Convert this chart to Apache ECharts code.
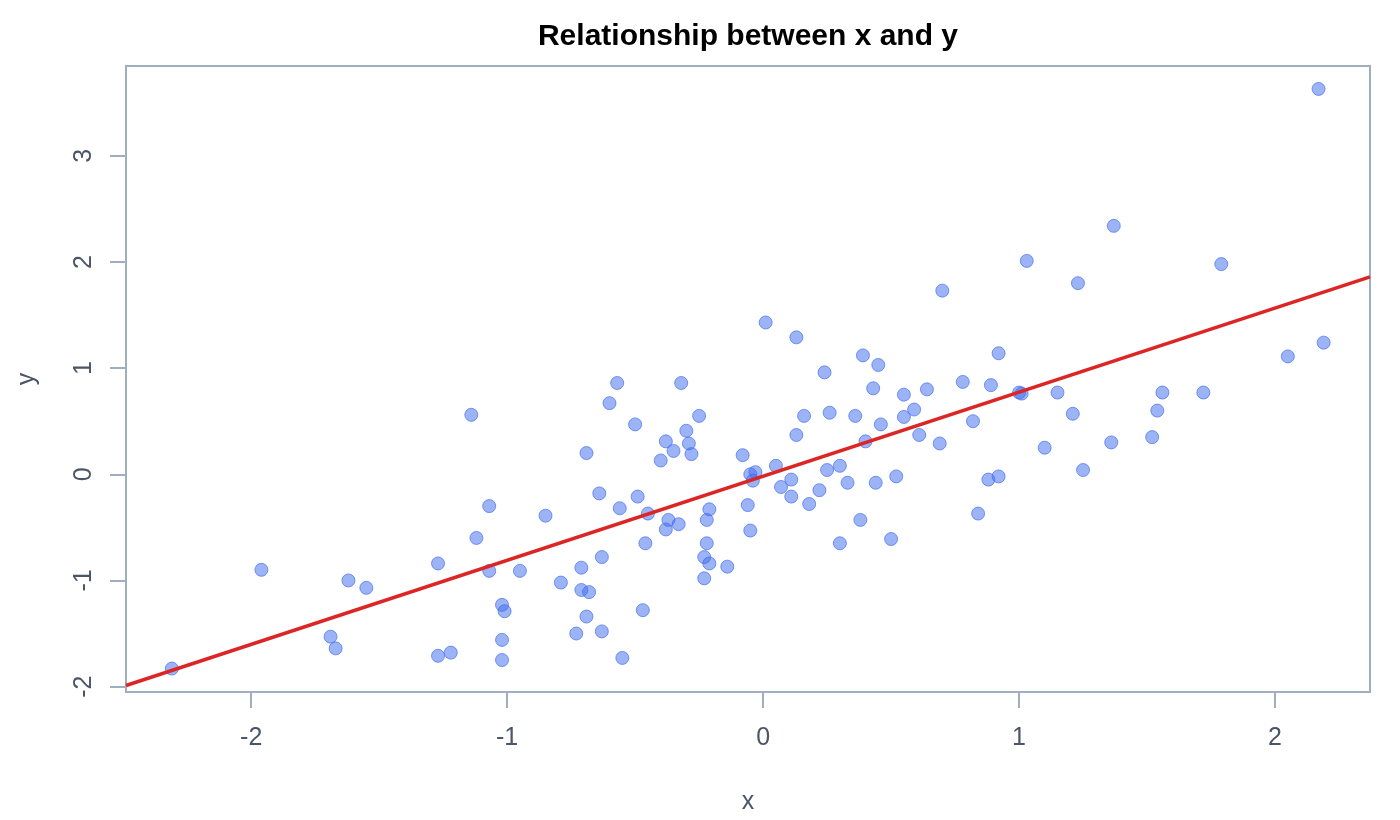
<!DOCTYPE html>
<html>
<head>
<meta charset="utf-8">
<title>Relationship between x and y</title>
<script src="https://cdn.jsdelivr.net/npm/echarts@6/dist/echarts.min.js"></script>
<style>
	html, body { margin: 0; padding: 0; background: #fff; }
	#main { width: 1400px; height: 820px; }
</style>
</head>
<body>
<div id="main"></div>
<script>
// values
var xValues = [-2.31, -1.96, -1.69, -1.67, -1.62, -1.55, -1.27, -1.27, -1.22, -1.14,
	-1.12, -1.07, -1.07, -0.95, -1.02, -1.01, -1.02, -1.02, -0.85, -0.79,
	-0.71, -0.71, -0.68, -0.73, -0.69, -0.63, -0.55, -0.69, -0.64, -0.63,
	-0.60, -0.57, -0.56, -0.50, -0.49, -0.47, -0.46, -0.45, -0.40, -0.38,
	-0.38, -0.37, -0.35, -0.33, -0.32, -0.30, -0.29, -0.28, -0.25, -0.23,
	-0.23, -0.22, -0.22, -0.21, -0.21, -0.14, -0.08, -0.06, -0.05, -0.05,
	-0.03, -0.04, 0.01, 0.05, 0.07, 0.11, 0.11, 0.13, 0.13, 0.16,
	0.18, 0.22, 0.24, 0.25, 0.26, 0.30, 0.30, 0.33, 0.36, 0.38,
	0.39, 0.40, 0.43, 0.44, 0.45, 0.46, 0.50, 0.52, 0.55, 0.55,
	0.59, 0.61, 0.64, 0.69, 0.70, 0.78, 0.82, 0.84, 0.88, 0.89,
	0.92, 0.92, 1.00, 1.01, 1.03, 1.10, 1.15, 1.21, 1.23, 1.25,
	1.36, 1.37, 1.52, 1.54, 1.56, 1.72, 1.79, 2.05, 2.17, 2.19];
var yValues = [-1.83, -0.90, -1.53, -1.64, -1.00, -1.07, -0.84, -1.71, -1.68, 0.56,
	-0.60, -0.30, -0.91, -0.91, -1.23, -1.29, -1.56, -1.75, -0.39, -1.02,
	-0.88, -1.09, -1.11, -1.50, -1.34, -1.48, -1.73, 0.20, -0.18, -0.78,
	0.67, 0.86, -0.32, 0.47, -0.21, -1.28, -0.65, -0.37, 0.13, 0.31,
	-0.52, -0.43, 0.22, -0.47, 0.86, 0.41, 0.29, 0.19, 0.55, -0.98,
	-0.78, -0.65, -0.43, -0.33, -0.84, -0.87, 0.18, -0.29, -0.53, 0.00,
	0.02, -0.06, 1.43, 0.08, -0.12, -0.05, -0.21, 0.37, 1.29, 0.55,
	-0.28, -0.15, 0.96, 0.04, 0.58, -0.65, 0.08, -0.08, 0.55, -0.43,
	1.12, 0.31, 0.81, -0.08, 1.03, 0.47, -0.61, -0.02, 0.54, 0.75,
	0.61, 0.37, 0.80, 0.29, 1.73, 0.87, 0.50, -0.37, -0.05, 0.84,
	1.14, -0.02, 0.77, 0.76, 2.01, 0.25, 0.77, 0.57, 1.80, 0.04,
	0.30, 2.34, 0.35, 0.60, 0.77, 0.77, 1.98, 1.11, 3.63, 1.24];
// fitted line, two ends at the plot edges
var fitX = [-2.489, 2.371];
var fitY = [-1.99, 1.86];
var xTicks = [-2, -1, 0, 1, 2];
var yTicks = [-2, -1, 0, 1, 2, 3];

var fontName = '"Liberation Sans", Arial, Helvetica, sans-serif';
var textColor = '#4a5568';
var frameColor = '#a0aec0';

function buildPoints(xs, ys) {
	var pts = [];
	for(var i = 0; i < xs.length; i++) {
		pts.push([xs[i], ys[i]]);
	}
	return pts;
}

function drawChart() {
	var chart = echarts.init(document.getElementById('main'), null, { renderer: 'canvas' });
	var option = {
		animation: false,
		backgroundColor: '#ffffff',
		title: {
			text: 'Relationship between x and y',
			left: 743,
			top: 17,
			textAlign: 'center',
			textStyle: {
				fontFamily: fontName,
				fontSize: 30,
				fontWeight: 'bold',
				color: '#000000'
			}
		},
		grid: {
			left: 126,
			right: 30,
			top: 66,
			bottom: 127,
			show: true,
			borderColor: frameColor,
			borderWidth: 2,
			backgroundColor: 'transparent'
		},
		xAxis: {
			type: 'value',
			min: -2.489,
			max: 2.371,
			name: 'x',
			nameLocation: 'middle',
			nameGap: 98,
			nameTextStyle: { fontFamily: fontName, fontSize: 25, color: textColor },
			axisLine: { show: false, onZero: false },
			splitLine: { show: false },
			axisTick: {
				show: true,
				customValues: xTicks,
				length: 16,
				lineStyle: { color: frameColor, width: 2 }
			},
			axisLabel: {
				customValues: xTicks,
				margin: 34,
				fontFamily: fontName,
				fontSize: 25,
				color: textColor
			}
		},
		yAxis: {
			type: 'value',
			min: -2.051,
			max: 3.846,
			name: 'y',
			nameLocation: 'middle',
			nameGap: 86,
			nameRotate: 90,
			nameTextStyle: { fontFamily: fontName, fontSize: 25, color: textColor },
			axisLine: { show: false, onZero: false },
			splitLine: { show: false },
			axisTick: {
				show: true,
				customValues: yTicks,
				length: 16,
				lineStyle: { color: frameColor, width: 2 }
			},
			axisLabel: {
				customValues: yTicks,
				rotate: 90,
				margin: 29,
				fontFamily: fontName,
				fontSize: 25,
				color: textColor
			}
		},
		series: [{
			type: 'scatter',
			data: buildPoints(xValues, yValues),
			symbol: 'circle',
			symbolSize: 13,
			z: 2,
			itemStyle: {
				color: 'rgba(66, 110, 238, 0.66)',
				borderColor: 'rgba(66, 110, 238, 0.85)',
				borderWidth: 1
			}
		}, {
			type: 'line',
			data: buildPoints(fitX, fitY),
			symbol: 'none',
			z: 3,
			lineStyle: { color: '#dc2626', width: 3.5 }
		}]
	};
	chart.setOption(option);
}

drawChart();
</script>
</body>
</html>
